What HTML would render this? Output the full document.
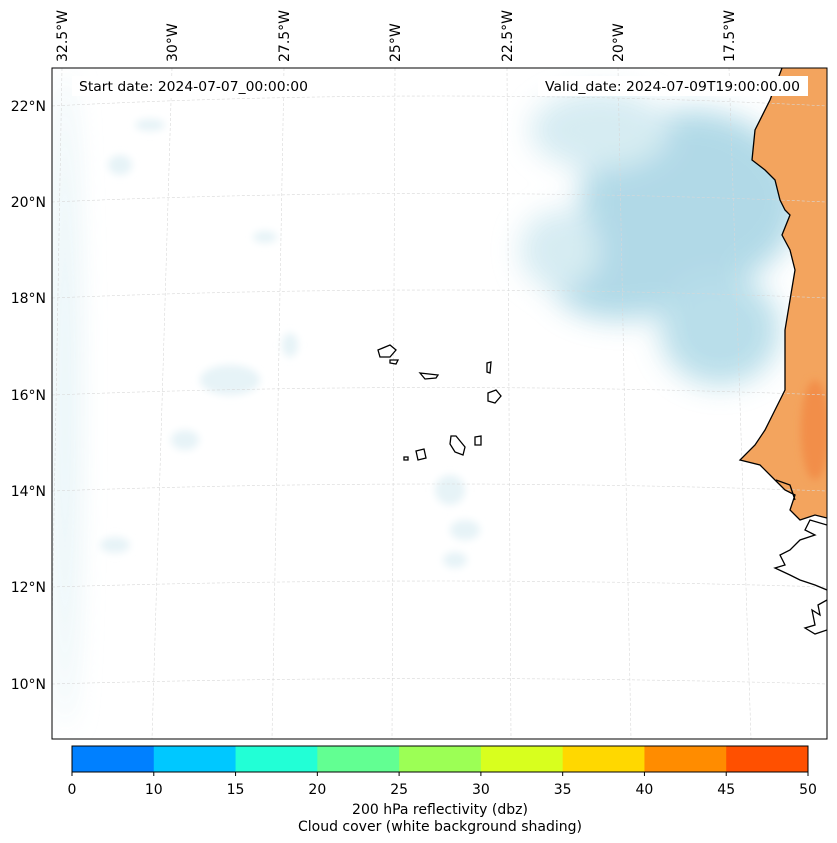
<!DOCTYPE html>
<html><head><meta charset="utf-8"><style>
body{margin:0;background:#fff;font-family:"DejaVu Sans","Liberation Sans",sans-serif;}
svg{display:block;font-family:"DejaVu Sans","Liberation Sans",sans-serif;}
</style></head><body>
<svg width="837" height="843" viewBox="0 0 837 843">
<defs>
<clipPath id="mapclip"><rect x="52" y="68" width="775" height="671"/></clipPath>
<filter id="blur" x="-50%" y="-50%" width="200%" height="200%"><feGaussianBlur stdDeviation="14"/></filter>
<filter id="blur2" x="-50%" y="-50%" width="200%" height="200%"><feGaussianBlur stdDeviation="4"/></filter>
</defs>
<g clip-path="url(#mapclip)">
<rect x="52" y="68" width="775" height="671" fill="#fff"/>
<g filter="url(#blur)" opacity="0.95">
<ellipse cx="690" cy="200" rx="110" ry="90" fill="#add8e6"/>
<ellipse cx="620" cy="280" rx="70" ry="40" fill="#add8e6"/>
<ellipse cx="720" cy="330" rx="60" ry="55" fill="#b6dde9"/>
<ellipse cx="600" cy="130" rx="70" ry="40" fill="#d4ebf2"/>
<ellipse cx="560" cy="250" rx="40" ry="40" fill="#d4ebf2"/>
<ellipse cx="65" cy="400" rx="12" ry="330" fill="#e2f2f6"/>
</g>
<g filter="url(#blur2)" fill="#e6f3f7">
<ellipse cx="230" cy="380" rx="30" ry="15"/><ellipse cx="185" cy="440" rx="14" ry="10"/>
<ellipse cx="450" cy="490" rx="15" ry="15"/><ellipse cx="465" cy="530" rx="15" ry="10"/>
<ellipse cx="115" cy="545" rx="15" ry="8"/><ellipse cx="290" cy="345" rx="8" ry="12"/>
<ellipse cx="265" cy="237" rx="12" ry="6"/><ellipse cx="120" cy="165" rx="12" ry="10"/>
<ellipse cx="150" cy="125" rx="15" ry="6"/><ellipse cx="455" cy="560" rx="12" ry="8"/>
</g>
<g>
<polygon points="782,68 770,100 755,130 752,160 765,170 775,180 780,200 785,210 790,215 782,235 790,250 795,270 790,300 785,330 785,360 785,390 775,410 765,430 755,445 740,460 760,465 775,480 785,490 795,495 790,510 800,520 815,515 827,518 827,68" fill="#f3a45e"/>
<ellipse cx="815" cy="430" rx="14" ry="50" fill="#f28e4a" filter="url(#blur2)"/>
</g>
<g stroke="#d8d8d8" stroke-width="0.6" stroke-dasharray="3,2" fill="none">
<path d="M52,106 Q440,86 827,106"/><path d="M52,202 Q440,185 827,202"/>
<path d="M52,298 Q440,282 827,298"/><path d="M52,395 Q440,380 827,395"/>
<path d="M52,491 Q440,477 827,491"/><path d="M52,587 Q440,575 827,587"/>
<path d="M52,684 Q440,673 827,684"/>
<line x1="62" y1="68" x2="50" y2="739"/><line x1="172" y1="68" x2="152" y2="739"/>
<line x1="284" y1="68" x2="272" y2="739"/><line x1="395" y1="68" x2="392" y2="739"/>
<line x1="507" y1="68" x2="511" y2="739"/><line x1="618" y1="68" x2="631" y2="739"/>
<line x1="729" y1="68" x2="751" y2="739"/>
</g>
<g fill="none" stroke="#000" stroke-width="1.3">
<polyline points="782,68 770,100 755,130 752,160 765,170 775,180 780,200 785,210 790,215 782,235 790,250 795,270 790,300 785,330 785,360 785,390 775,410 765,430 755,445 740,460 760,465 775,480 785,490 795,495 790,510 800,520 815,515 827,518"/>
<polyline points="776,480 790,485 795,500"/>
<polyline points="827,525 810,520 805,530 815,535 800,540 790,550 780,555 785,565 775,568 790,575 800,580 815,585 827,590"/>
<polyline points="827,600 818,605 820,615 812,610 815,625 805,628 815,634 827,630"/>
</g>
<g fill="#fff" stroke="#000" stroke-width="1.3">
<path d="M378,350 L390,345 L396,350 L390,357 L380,357 Z"/>
<path d="M390,360 L398,360 L396,364 L390,363 Z"/>
<path d="M420,373 L438,375 L436,378 L425,379 Z"/>
<path d="M487,363 L491,362 L490,373 L487,372 Z"/>
<path d="M488,393 L496,390 L501,396 L495,403 L488,401 Z"/>
<path d="M451,436 L456,436 L465,447 L463,455 L455,452 L450,444 Z"/>
<path d="M475,437 L481,436 L481,445 L475,445 Z"/>
<path d="M416,451 L424,449 L426,458 L418,460 Z"/>
<path d="M404,457 L408,457 L408,460 L404,460 Z"/>
</g>
</g>
<rect x="52" y="68" width="775" height="671" fill="none" stroke="#000" stroke-width="1"/>
<rect x="72" y="76" width="243" height="20" fill="#fff"/>
<text x="79" y="91" font-size="13.5" textLength="229" lengthAdjust="spacingAndGlyphs">Start date: 2024-07-07_00:00:00</text>
<rect x="538" y="76" width="270" height="20" fill="#fff"/>
<text x="545" y="91" font-size="13.5" textLength="255" lengthAdjust="spacingAndGlyphs">Valid_date: 2024-07-09T19:00:00.00</text>
<g font-size="14">
<text transform="translate(67,62) rotate(-90)">32.5°W</text>
<text transform="translate(177,62) rotate(-90)">30°W</text>
<text transform="translate(289,62) rotate(-90)">27.5°W</text>
<text transform="translate(400,62) rotate(-90)">25°W</text>
<text transform="translate(512,62) rotate(-90)">22.5°W</text>
<text transform="translate(623,62) rotate(-90)">20°W</text>
<text transform="translate(734,62) rotate(-90)">17.5°W</text>
</g>
<g font-size="14" text-anchor="end">
<text x="46" y="111">22°N</text><text x="46" y="207">20°N</text><text x="46" y="303">18°N</text>
<text x="46" y="400">16°N</text><text x="46" y="496">14°N</text><text x="46" y="592">12°N</text>
<text x="46" y="689">10°N</text>
</g>
<g id="cbar"></g>
<text x="440" y="814" font-size="14" text-anchor="middle">200 hPa reflectivity (dbz)</text>
<text x="440" y="831" font-size="14" text-anchor="middle">Cloud cover (white background shading)</text>
</svg>
<script>
const bounds=[0,10,15,20,25,30,35,40,45,50];
const colors=["#0080ff","#00c8ff","#22ffd6","#62ff92","#9cff55","#d8ff1e","#ffd800","#ff8c00","#ff5000"];
const g=document.getElementById('cbar');
const NS="http://www.w3.org/2000/svg";
const x0=72,x1=808,y0=746,h=26;
function bx(i){return x0+(x1-x0)*i/(bounds.length-1);}
for(let i=0;i<colors.length;i++){
 const r=document.createElementNS(NS,'rect');
 r.setAttribute('x',bx(i));r.setAttribute('y',y0);r.setAttribute('width',bx(i+1)-bx(i)+0.5);r.setAttribute('height',h);r.setAttribute('fill',colors[i]);
 
 
 g.appendChild(r);
}
const fr=document.createElementNS(NS,'rect');
fr.setAttribute('x',x0);fr.setAttribute('y',y0);fr.setAttribute('width',x1-x0);fr.setAttribute('height',h);fr.setAttribute('fill','none');fr.setAttribute('stroke','#000');


g.appendChild(fr);
bounds.forEach((b,i)=>{
 const l=document.createElementNS(NS,'line');
 l.setAttribute('x1',bx(i));l.setAttribute('x2',bx(i));l.setAttribute('y1',y0+h);l.setAttribute('y2',y0+h+4);l.setAttribute('stroke','#000');
 
 
 g.appendChild(l);
 const t=document.createElementNS(NS,'text');
 t.setAttribute('x',bx(i));t.setAttribute('y',794);t.setAttribute('font-size','14');t.setAttribute('text-anchor','middle');
 t.textContent=b;
 
 
 g.appendChild(t);
});
</script>
</body></html>
